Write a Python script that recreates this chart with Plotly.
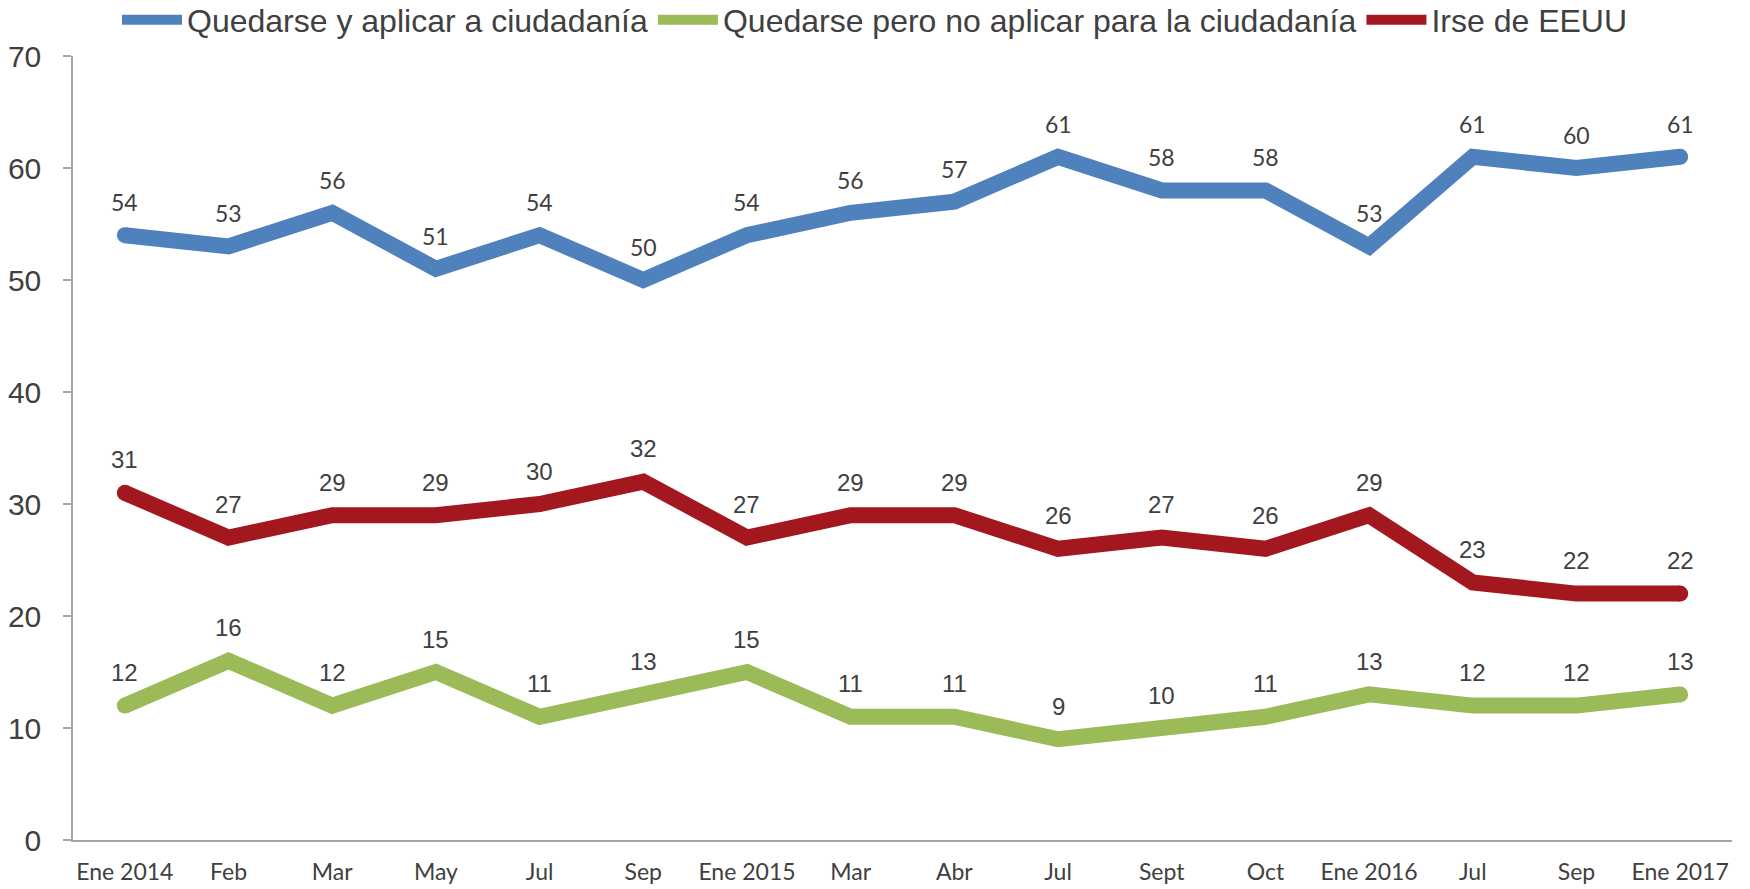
import plotly.graph_objects as go

categories = ["Ene 2014", "Feb", "Mar", "May", "Jul", "Sep", "Ene 2015", "Mar", "Abr",
              "Jul", "Sept", "Oct", "Ene 2016", "Jul", "Sep", "Ene 2017"]
aplicar = [54, 53, 56, 51, 54, 50, 54, 56, 57, 61, 58, 58, 53, 61, 60, 61]
no_aplicar = [12, 16, 12, 15, 11, 13, 15, 11, 11, 9, 10, 11, 13, 12, 12, 13]
irse = [31, 27, 29, 29, 30, 32, 27, 29, 29, 26, 27, 26, 29, 23, 22, 22]

names = ["Quedarse y aplicar a ciudadanía", "Quedarse pero no aplicar para la ciudadanía", "Irse de EEUU"]
colors = ["#4F81BD", "#9BBB59", "#A3181F"]
series = [aplicar, no_aplicar, irse]
label_fonts = [dict(family="Lato, Open Sans, sans-serif", size=23, color="#404040"),
               dict(family="Liberation Sans, Arial, sans-serif", size=24, color="#404040"),
               dict(family="Liberation Sans, Arial, sans-serif", size=24, color="#404040")]

x = list(range(len(categories)))
LW = 16

fig = go.Figure()
for name, col, vals in zip(names, colors, series):
    fig.add_trace(go.Scatter(x=x, y=vals, mode="lines", name=name,
                             line=dict(color=col, width=LW)))
for name, col, vals in zip(names, colors, series):
    fig.add_trace(go.Scatter(x=[x[0], x[-1]], y=[vals[0], vals[-1]], mode="markers",
                             marker=dict(color=col, size=LW), showlegend=False,
                             hoverinfo="skip"))

annotations = []
for vals, fnt in zip(series, label_fonts):
    for xi, v in zip(x, vals):
        annotations.append(dict(x=xi, y=v, text=str(v), showarrow=False, yshift=33,
                                xanchor="center", yanchor="middle", font=fnt))

fig.update_layout(
    width=1750, height=889,
    margin=dict(l=73, r=18, t=56, b=49, autoexpand=False),
    paper_bgcolor="white", plot_bgcolor="white",
    annotations=annotations,
    showlegend=True,
    legend=dict(orientation="h", xref="container", yref="container",
                x=0.5, xanchor="center", y=1 - 20 / 889, yanchor="middle",
                font=dict(family="Liberation Sans, Arial, sans-serif", size=32, color="#404040"),
                itemwidth=60, tracegroupgap=0, bgcolor="rgba(0,0,0,0)"),
    xaxis=dict(range=[-0.5, len(categories) - 0.5], tickmode="array", tickvals=x,
               ticktext=categories, showgrid=False, zeroline=False, showline=True,
               linecolor="#A6A6A6", linewidth=1.5, ticks="", ticklabelstandoff=11,
               tickfont=dict(family="Lato, Open Sans, sans-serif", size=23, color="#404040")),
    yaxis=dict(range=[0, 70], dtick=10, showgrid=False, zeroline=False, showline=True,
               linecolor="#A6A6A6", linewidth=1.5, ticks="outside", ticklen=8,
               tickcolor="#A6A6A6", tickwidth=1.5, ticklabelstandoff=16,
               tickfont=dict(family="Liberation Sans, Arial, sans-serif", size=30, color="#404040")),
)

fig.write_html("out.html")
